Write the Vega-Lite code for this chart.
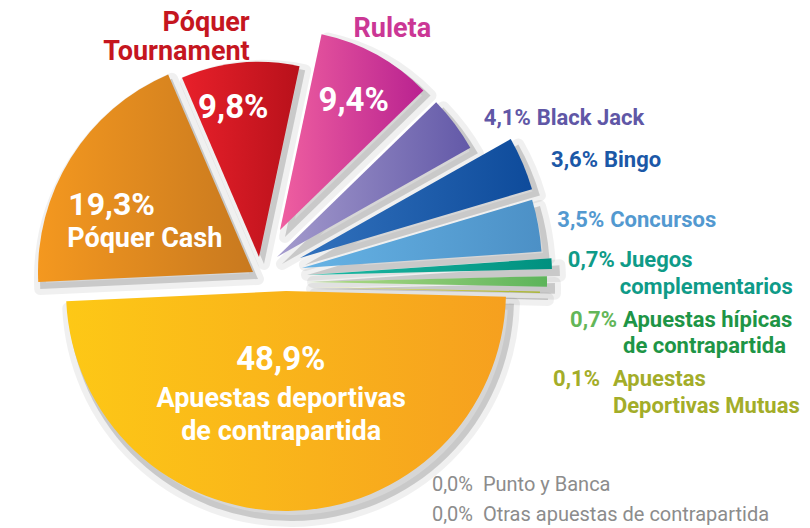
{
  "$schema": "https://vega.github.io/schema/vega-lite/v6.json",
  "width": 810,
  "height": 528,
  "autosize": {"type": "none"},
  "padding": 0,
  "background": "white",
  "config": {
    "view": {"stroke": null},
    "text": {"font": "Roboto", "fontWeight": "bold", "lineBreak": "\n"},
    "locale": {"number": {"decimal": ",", "thousands": ".", "grouping": [3], "currency": ["", "%"]}}
  },
  "data": {
    "values": [
      {"ord": 1, "cat": "Ruleta", "value": 9.4},
      {"ord": 2, "cat": "Black Jack", "value": 4.1},
      {"ord": 3, "cat": "Bingo", "value": 3.6},
      {"ord": 4, "cat": "Concursos", "value": 3.5},
      {"ord": 5, "cat": "Juegos\ncomplementarios", "value": 0.7},
      {"ord": 6, "cat": "Apuestas hípicas\nde contrapartida", "value": 0.7},
      {"ord": 7, "cat": "Apuestas\nDeportivas Mutuas", "value": 0.1},
      {"ord": 8, "cat": "Punto y Banca", "value": 0.0},
      {"ord": 9, "cat": "Otras apuestas de contrapartida", "value": 0.0},
      {"ord": 10, "cat": "Apuestas deportivas\nde contrapartida", "value": 48.9},
      {"ord": 11, "cat": "Póquer Cash", "value": 19.3},
      {"ord": 12, "cat": "Póquer\nTournament", "value": 9.8}
    ]
  },
  "transform": [
    {"stack": "value", "groupby": [], "sort": [{"field": "ord", "order": "ascending"}], "as": ["start", "end"]}
  ],
  "layer": [
    {
      "encoding": {
        "theta": {"field": "start", "type": "quantitative", "scale": {"domain": [0, 100.1], "range": [0.2094, 6.4926]}},
        "theta2": {"field": "end"}
      },
      "layer": [
        {"transform": [{"filter": "datum.ord == 10"}], "mark": {"type": "arc", "radius": 223, "xOffset": -114, "yOffset": 34, "fill": "#000", "fillOpacity": 0.16, "stroke": "#000", "strokeOpacity": 0.06, "strokeWidth": 12, "strokeJoin": "round"}},
        {"transform": [{"filter": "datum.ord == 11"}], "mark": {"type": "arc", "radius": 218, "xOffset": -147, "yOffset": 15, "fill": "#000", "fillOpacity": 0.16, "stroke": "#000", "strokeOpacity": 0.06, "strokeWidth": 12, "strokeJoin": "round"}},
        {"transform": [{"filter": "datum.ord == 12"}], "mark": {"type": "arc", "radius": 198, "xOffset": -141, "yOffset": 0, "fill": "#000", "fillOpacity": 0.16, "stroke": "#000", "strokeOpacity": 0.06, "strokeWidth": 12, "strokeJoin": "round"}},
        {"transform": [{"filter": "datum.ord == 1"}], "mark": {"type": "arc", "radius": 203, "xOffset": -120, "yOffset": -27, "fill": "#000", "fillOpacity": 0.16, "stroke": "#000", "strokeOpacity": 0.06, "strokeWidth": 12, "strokeJoin": "round"}},
        {"transform": [{"filter": "datum.ord == 2"}], "mark": {"type": "arc", "radius": 225, "xOffset": -123, "yOffset": 0, "fill": "#000", "fillOpacity": 0.16, "stroke": "#000", "strokeOpacity": 0.06, "strokeWidth": 12, "strokeJoin": "round"}},
        {"transform": [{"filter": "datum.ord == 3"}], "mark": {"type": "arc", "radius": 245, "xOffset": -100, "yOffset": 1, "fill": "#000", "fillOpacity": 0.16, "stroke": "#000", "strokeOpacity": 0.06, "strokeWidth": 12, "strokeJoin": "round"}},
        {"transform": [{"filter": "datum.ord == 4"}], "mark": {"type": "arc", "radius": 243, "xOffset": -98, "yOffset": 11, "fill": "#000", "fillOpacity": 0.16, "stroke": "#000", "strokeOpacity": 0.06, "strokeWidth": 12, "strokeJoin": "round"}},
        {"transform": [{"filter": "datum.ord == 5"}], "mark": {"type": "arc", "radius": 247, "xOffset": -92, "yOffset": 18, "fill": "#000", "fillOpacity": 0.16, "stroke": "#000", "strokeOpacity": 0.06, "strokeWidth": 12, "strokeJoin": "round"}},
        {"transform": [{"filter": "datum.ord == 6"}], "mark": {"type": "arc", "radius": 243, "xOffset": -93, "yOffset": 25, "fill": "#000", "fillOpacity": 0.16, "stroke": "#000", "strokeOpacity": 0.06, "strokeWidth": 12, "strokeJoin": "round"}},
        {"transform": [{"filter": "datum.ord == 7"}], "mark": {"type": "arc", "radius": 233, "xOffset": -90, "yOffset": 30, "fill": "#000", "fillOpacity": 0.16, "stroke": "#000", "strokeOpacity": 0.06, "strokeWidth": 12, "strokeJoin": "round"}},

        {"transform": [{"filter": "datum.ord == 10"}], "mark": {"type": "arc", "radius": 220, "xOffset": -119, "yOffset": 27, "fill": {"gradient": "linear", "x1": 0, "y1": 0, "x2": 1, "y2": 0, "stops": [{"offset": 0, "color": "#FDC816"}, {"offset": 1, "color": "#F6A01F"}]}}},
        {"transform": [{"filter": "datum.ord == 11"}], "mark": {"type": "arc", "radius": 215, "xOffset": -152, "yOffset": 8, "fill": {"gradient": "linear", "x1": 0, "y1": 0, "x2": 1, "y2": 0, "stops": [{"offset": 0, "color": "#F4981F"}, {"offset": 1, "color": "#C8791F"}]}}},
        {"transform": [{"filter": "datum.ord == 12"}], "mark": {"type": "arc", "radius": 195, "xOffset": -146, "yOffset": -7, "fill": {"gradient": "linear", "x1": 0, "y1": 0, "x2": 1, "y2": 0, "stops": [{"offset": 0, "color": "#E8202A"}, {"offset": 1, "color": "#B8111B"}]}}},
        {"transform": [{"filter": "datum.ord == 1"}], "mark": {"type": "arc", "radius": 200, "xOffset": -125, "yOffset": -34, "fill": {"gradient": "linear", "x1": 0, "y1": 0, "x2": 1, "y2": 0, "stops": [{"offset": 0, "color": "#EF5FA0"}, {"offset": 1, "color": "#B92290"}]}}},
        {"transform": [{"filter": "datum.ord == 2"}], "mark": {"type": "arc", "radius": 222, "xOffset": -128, "yOffset": -7, "fill": {"gradient": "linear", "x1": 0, "y1": 0, "x2": 1, "y2": 0, "stops": [{"offset": 0, "color": "#A49BCD"}, {"offset": 1, "color": "#6359A8"}]}}},
        {"transform": [{"filter": "datum.ord == 3"}], "mark": {"type": "arc", "radius": 242, "xOffset": -105, "yOffset": -6, "fill": {"gradient": "linear", "x1": 0, "y1": 0, "x2": 1, "y2": 0, "stops": [{"offset": 0, "color": "#3272BD"}, {"offset": 1, "color": "#0E4B9B"}]}}},
        {"transform": [{"filter": "datum.ord == 4"}], "mark": {"type": "arc", "radius": 240, "xOffset": -103, "yOffset": 4, "fill": {"gradient": "linear", "x1": 0, "y1": 0, "x2": 1, "y2": 0, "stops": [{"offset": 0, "color": "#66B3E5"}, {"offset": 1, "color": "#4C90C6"}]}}},
        {"transform": [{"filter": "datum.ord == 5"}], "mark": {"type": "arc", "radius": 244, "xOffset": -97, "yOffset": 11, "fill": {"gradient": "linear", "x1": 0, "y1": 0, "x2": 1, "y2": 0, "stops": [{"offset": 0, "color": "#1DBBA5"}, {"offset": 1, "color": "#00907F"}]}}},
        {"transform": [{"filter": "datum.ord == 6"}], "mark": {"type": "arc", "radius": 240, "xOffset": -98, "yOffset": 18, "fill": {"gradient": "linear", "x1": 0, "y1": 0, "x2": 1, "y2": 0, "stops": [{"offset": 0, "color": "#B5DD8A"}, {"offset": 1, "color": "#5DB45A"}]}}},
        {"transform": [{"filter": "datum.ord == 7"}], "mark": {"type": "arc", "radius": 230, "xOffset": -95, "yOffset": 23, "fill": {"gradient": "linear", "x1": 0, "y1": 0, "x2": 1, "y2": 0, "stops": [{"offset": 0, "color": "#EBE15A"}, {"offset": 1, "color": "#AAB633"}]}}}
      ]
    },
    {
      "encoding": {
        "theta": {"field": "value", "type": "quantitative", "stack": true, "scale": {"domain": [0, 100.1], "range": [0.2094, 6.4926]}},
        "order": {"field": "ord", "type": "quantitative"},
        "detail": {"field": "ord", "type": "nominal"}
      },
      "layer": [
        {"mark": {"type": "text", "radius": 220, "xOffset": -125, "yOffset": -34, "dx": 6, "align": "center", "baseline": "alphabetic", "fontSize": 27, "color": "#CB3795"},
         "encoding": {"text": {"field": "cat"}, "opacity": {"condition": {"test": "datum.ord == 1", "value": 1}, "value": 0}}},
        {"mark": {"type": "text", "radius": 136, "xOffset": -125, "yOffset": -34, "dx": 8, "align": "center", "baseline": "alphabetic", "fontSize": 33, "color": "white"},
         "encoding": {"text": {"field": "value", "type": "quantitative", "format": "$.1f"}, "opacity": {"condition": {"test": "datum.ord == 1", "value": 1}, "value": 0}}},
        {"mark": {"type": "text", "radius": 227, "xOffset": -146, "yOffset": -7, "dx": 13, "align": "right", "baseline": "alphabetic", "fontSize": 27, "lineHeight": 29, "color": "#C5161F"},
         "encoding": {"text": {"field": "cat"}, "opacity": {"condition": {"test": "datum.ord == 12", "value": 1}, "value": 0}}},
        {"mark": {"type": "text", "radius": 140, "xOffset": -146, "yOffset": -7, "dx": -12, "align": "center", "baseline": "alphabetic", "fontSize": 33, "color": "white"},
         "encoding": {"text": {"field": "value", "type": "quantitative", "format": "$.1f"}, "opacity": {"condition": {"test": "datum.ord == 12", "value": 1}, "value": 0}}},
        {"mark": {"type": "text", "radius": 107, "xOffset": -152, "yOffset": 8, "dx": -94, "align": "left", "baseline": "alphabetic", "fontSize": 32, "color": "white"},
         "encoding": {"text": {"field": "value", "type": "quantitative", "format": "$.1f"}, "opacity": {"condition": {"test": "datum.ord == 11", "value": 1}, "value": 0}}},
        {"mark": {"type": "text", "radius": 47, "xOffset": -152, "yOffset": 8, "dx": -146, "align": "left", "baseline": "alphabetic", "fontSize": 27, "color": "white"},
         "encoding": {"text": {"field": "cat"}, "opacity": {"condition": {"test": "datum.ord == 11", "value": 1}, "value": 0}}},
        {"mark": {"type": "text", "radius": 79, "xOffset": -119, "yOffset": 27, "dx": -6, "align": "center", "baseline": "alphabetic", "fontSize": 33, "color": "white"},
         "encoding": {"text": {"field": "value", "type": "quantitative", "format": "$.1f"}, "opacity": {"condition": {"test": "datum.ord == 10", "value": 1}, "value": 0}}},
        {"mark": {"type": "text", "radius": 116, "xOffset": -119, "yOffset": 27, "dx": -6, "align": "center", "baseline": "alphabetic", "fontSize": 27, "lineHeight": 33, "color": "white"},
         "encoding": {"text": {"field": "cat"}, "opacity": {"condition": {"test": "datum.ord == 10", "value": 1}, "value": 0}}},

        {"mark": {"type": "text", "radius": 222, "xOffset": -128, "yOffset": -7, "dx": 76, "dy": 1, "align": "right", "baseline": "alphabetic", "fontSize": 22, "color": "#6057A6"},
         "encoding": {"text": {"field": "value", "type": "quantitative", "format": "$.1f"}, "opacity": {"condition": {"test": "datum.ord == 2", "value": 1}, "value": 0}}},
        {"mark": {"type": "text", "radius": 222, "xOffset": -128, "yOffset": -7, "dx": 82, "dy": 1, "align": "left", "baseline": "alphabetic", "fontSize": 22, "color": "#6057A6"},
         "encoding": {"text": {"field": "cat"}, "opacity": {"condition": {"test": "datum.ord == 2", "value": 1}, "value": 0}}},
        {"mark": {"type": "text", "radius": 240, "xOffset": -105, "yOffset": -6, "dx": 77, "dy": 3, "align": "right", "baseline": "alphabetic", "fontSize": 22, "color": "#1B58A7"},
         "encoding": {"text": {"field": "value", "type": "quantitative", "format": "$.1f"}, "opacity": {"condition": {"test": "datum.ord == 3", "value": 1}, "value": 0}}},
        {"mark": {"type": "text", "radius": 240, "xOffset": -105, "yOffset": -6, "dx": 83, "dy": 3, "align": "left", "baseline": "alphabetic", "fontSize": 22, "color": "#1B58A7"},
         "encoding": {"text": {"field": "cat"}, "opacity": {"condition": {"test": "datum.ord == 3", "value": 1}, "value": 0}}},
        {"mark": {"type": "text", "radius": 240, "xOffset": -103, "yOffset": 4, "dx": 66, "dy": 2, "align": "right", "baseline": "alphabetic", "fontSize": 22, "color": "#5399D0"},
         "encoding": {"text": {"field": "value", "type": "quantitative", "format": "$.1f"}, "opacity": {"condition": {"test": "datum.ord == 4", "value": 1}, "value": 0}}},
        {"mark": {"type": "text", "radius": 240, "xOffset": -103, "yOffset": 4, "dx": 72, "dy": 2, "align": "left", "baseline": "alphabetic", "fontSize": 22, "color": "#5399D0"},
         "encoding": {"text": {"field": "cat"}, "opacity": {"condition": {"test": "datum.ord == 4", "value": 1}, "value": 0}}},
        {"mark": {"type": "text", "radius": 244, "xOffset": -97, "yOffset": 11, "dx": 63, "dy": 3, "align": "right", "baseline": "alphabetic", "fontSize": 22, "color": "#0F9B88"},
         "encoding": {"text": {"field": "value", "type": "quantitative", "format": "$.1f"}, "opacity": {"condition": {"test": "datum.ord == 5", "value": 1}, "value": 0}}},
        {"mark": {"type": "text", "radius": 244, "xOffset": -97, "yOffset": 11, "dx": 68, "dy": 3, "align": "left", "baseline": "alphabetic", "fontSize": 22, "lineHeight": 27, "color": "#0F9B88"},
         "encoding": {"text": {"field": "cat"}, "opacity": {"condition": {"test": "datum.ord == 5", "value": 1}, "value": 0}}},
        {"mark": {"type": "text", "radius": 240, "xOffset": -98, "yOffset": 18, "dx": 70, "dy": 46, "align": "right", "baseline": "alphabetic", "fontSize": 22, "color": "#63B658"},
         "encoding": {"text": {"field": "value", "type": "quantitative", "format": "$.1f"}, "opacity": {"condition": {"test": "datum.ord == 6", "value": 1}, "value": 0}}},
        {"mark": {"type": "text", "radius": 240, "xOffset": -98, "yOffset": 18, "dx": 76, "dy": 46, "align": "left", "baseline": "alphabetic", "fontSize": 22, "lineHeight": 26, "color": "#1E9546"},
         "encoding": {"text": {"field": "cat"}, "opacity": {"condition": {"test": "datum.ord == 6", "value": 1}, "value": 0}}},
        {"mark": {"type": "text", "radius": 230, "xOffset": -95, "yOffset": 23, "dx": 60, "dy": 94, "align": "right", "baseline": "alphabetic", "fontSize": 22, "color": "#A3AD29"},
         "encoding": {"text": {"field": "value", "type": "quantitative", "format": "$.1f"}, "opacity": {"condition": {"test": "datum.ord == 7", "value": 1}, "value": 0}}},
        {"mark": {"type": "text", "radius": 230, "xOffset": -95, "yOffset": 23, "dx": 73, "dy": 94, "align": "left", "baseline": "alphabetic", "fontSize": 22, "lineHeight": 27, "color": "#A3AD29"},
         "encoding": {"text": {"field": "cat"}, "opacity": {"condition": {"test": "datum.ord == 7", "value": 1}, "value": 0}}},

        {"mark": {"type": "text", "radius": 230, "xOffset": -95, "yOffset": 23, "dx": -108, "dy": 198, "align": "left", "baseline": "alphabetic", "fontSize": 20, "fontWeight": "normal", "color": "#8C8C8C"},
         "encoding": {"text": {"field": "value", "type": "quantitative", "format": "$.1f"}, "opacity": {"condition": {"test": "datum.ord == 8", "value": 1}, "value": 0}}},
        {"mark": {"type": "text", "radius": 230, "xOffset": -95, "yOffset": 23, "dx": -57, "dy": 198, "align": "left", "baseline": "alphabetic", "fontSize": 20, "fontWeight": "normal", "color": "#8C8C8C"},
         "encoding": {"text": {"field": "cat"}, "opacity": {"condition": {"test": "datum.ord == 8", "value": 1}, "value": 0}}},
        {"mark": {"type": "text", "radius": 230, "xOffset": -95, "yOffset": 23, "dx": -108, "dy": 228, "align": "left", "baseline": "alphabetic", "fontSize": 20, "fontWeight": "normal", "color": "#8C8C8C"},
         "encoding": {"text": {"field": "value", "type": "quantitative", "format": "$.1f"}, "opacity": {"condition": {"test": "datum.ord == 9", "value": 1}, "value": 0}}},
        {"mark": {"type": "text", "radius": 230, "xOffset": -95, "yOffset": 23, "dx": -57, "dy": 228, "align": "left", "baseline": "alphabetic", "fontSize": 20, "fontWeight": "normal", "color": "#8C8C8C"},
         "encoding": {"text": {"field": "cat"}, "opacity": {"condition": {"test": "datum.ord == 9", "value": 1}, "value": 0}}}
      ]
    }
  ]
}
